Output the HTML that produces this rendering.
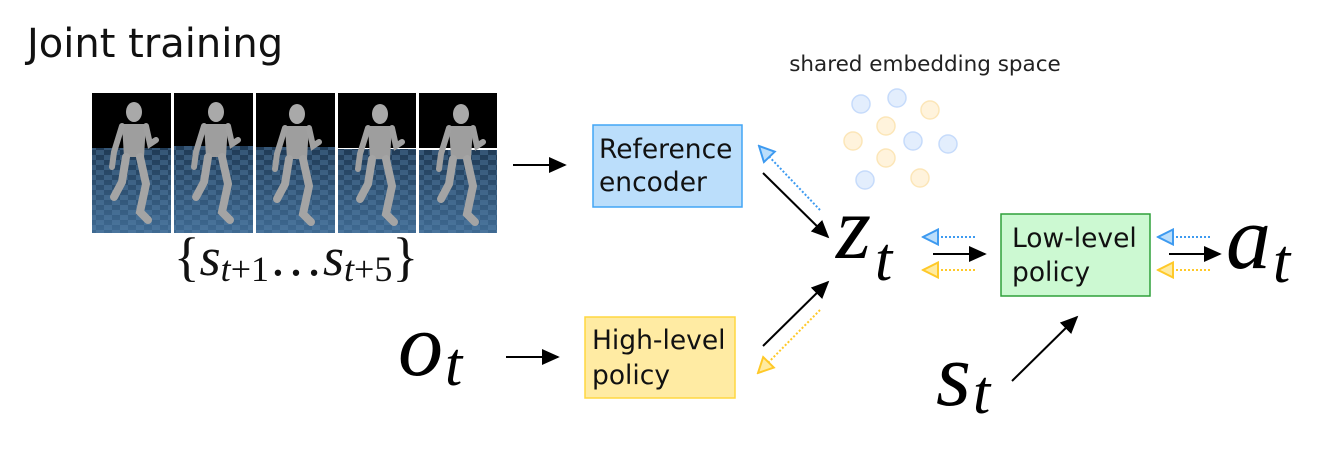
<!DOCTYPE html>
<html><head><meta charset="utf-8"><style>
html,body{margin:0;padding:0;background:#fff;}
svg{display:block;}
.sans{font-family:"DejaVu Sans","Liberation Sans",sans-serif;}
.math{font-family:"Liberation Serif","DejaVu Serif",serif;font-style:italic;}
</style></head><body>
<svg width="1342" height="449" viewBox="0 0 1342 449" xmlns="http://www.w3.org/2000/svg">
<defs>
<marker id="ah" viewBox="0 0 10 10" refX="9" refY="5" markerWidth="18" markerHeight="18" markerUnits="userSpaceOnUse" orient="auto"><path d="M0,0.5 L10,5 L0,9.5 z" fill="#000"/></marker>
<marker id="ahB" viewBox="0 0 12 12" refX="11" refY="6" markerWidth="18" markerHeight="18" markerUnits="userSpaceOnUse" orient="auto"><path d="M1,1 L11,6 L1,11 z" fill="#bbdefb" stroke="#3d9af0" stroke-width="1.3"/></marker>
<marker id="ahY" viewBox="0 0 12 12" refX="11" refY="6" markerWidth="18" markerHeight="18" markerUnits="userSpaceOnUse" orient="auto"><path d="M1,1 L11,6 L1,11 z" fill="#ffeba0" stroke="#ffc928" stroke-width="1.3"/></marker>
<linearGradient id="fl" x1="0" y1="0" x2="0" y2="1"><stop offset="0" stop-color="#1f3a55"/><stop offset="1" stop-color="#3f6a92"/></linearGradient>
<pattern id="chk" width="16" height="10" patternUnits="userSpaceOnUse"><rect width="8" height="5" fill="#5f8ab0" opacity=".35"/><rect x="8" y="5" width="8" height="5" fill="#5f8ab0" opacity=".35"/></pattern>
<g id="fig">
<ellipse cx="0" cy="-50" rx="8" ry="10" fill="#a9a9a9"/>
<path d="M-12,-38 L12,-38 L10,-5 L-10,-5 z" fill="#9e9e9e"/>
<path d="M-12,-36 L-20,-10 L-22,5" stroke="#a0a0a0" stroke-width="6" fill="none" stroke-linecap="round"/>
<path d="M12,-36 L16,-18 L22,-22" stroke="#a0a0a0" stroke-width="6" fill="none" stroke-linecap="round"/>
<path d="M-8,-5 L-12,20 L-20,35" stroke="#a4a4a4" stroke-width="8" fill="none" stroke-linecap="round"/>
<path d="M6,-5 L12,22 L6,50 L14,58" stroke="#a4a4a4" stroke-width="8" fill="none" stroke-linecap="round"/>
</g>
</defs>

<text x="27" y="57" class="sans" font-size="40" fill="#111">Joint training</text>

<g>
<rect x="92" y="93" width="79" height="55" fill="#000"/><rect x="92" y="148" width="79" height="85" fill="url(#fl)"/><rect x="92" y="148" width="79" height="85" fill="url(#chk)"/>
<rect x="174" y="93" width="79" height="55" fill="#000"/><rect x="174" y="146" width="79" height="87" fill="url(#fl)"/><rect x="174" y="146" width="79" height="87" fill="url(#chk)"/>
<rect x="256" y="93" width="79" height="55" fill="#000"/><rect x="256" y="147" width="79" height="86" fill="url(#fl)"/><rect x="256" y="147" width="79" height="86" fill="url(#chk)"/>
<rect x="338" y="93" width="78" height="55" fill="#000"/><rect x="338" y="149" width="78" height="84" fill="url(#fl)"/><rect x="338" y="149" width="78" height="84" fill="url(#chk)"/>
<rect x="419" y="93" width="78" height="55" fill="#000"/><rect x="419" y="150" width="78" height="83" fill="url(#fl)"/><rect x="419" y="150" width="78" height="83" fill="url(#chk)"/>
<use href="#fig" x="134" y="162"/>
<use href="#fig" x="216" y="162"/>
<use href="#fig" x="297" y="164"/>
<use href="#fig" x="380" y="164"/>
<use href="#fig" x="461" y="164"/>
</g>

<text x="296" y="275" text-anchor="middle" class="math" font-size="54" fill="#111"><tspan font-style="normal">{</tspan>s<tspan font-size="36" dy="6">t</tspan><tspan font-size="36" font-style="normal">+1</tspan><tspan dy="-6" font-style="normal">…</tspan>s<tspan font-size="36" dy="6">t</tspan><tspan font-size="36" font-style="normal">+5</tspan><tspan dy="-6" font-style="normal">}</tspan></text>

<text x="925" y="71" text-anchor="middle" class="sans" font-size="21.5" fill="#222">shared embedding space</text>
<g stroke-width="1.5">
<circle cx="861" cy="104" r="9" fill="#e3eefd" stroke="#c6dbfb"/>
<circle cx="897" cy="98" r="9" fill="#e3eefd" stroke="#c6dbfb"/>
<circle cx="913" cy="141" r="9" fill="#e3eefd" stroke="#c6dbfb"/>
<circle cx="948" cy="144" r="9" fill="#e3eefd" stroke="#c6dbfb"/>
<circle cx="865" cy="180" r="9" fill="#e3eefd" stroke="#c6dbfb"/>
<circle cx="930" cy="110" r="9" fill="#fff3dc" stroke="#fce6b8"/>
<circle cx="886" cy="126" r="9" fill="#fff3dc" stroke="#fce6b8"/>
<circle cx="853" cy="141" r="9" fill="#fff3dc" stroke="#fce6b8"/>
<circle cx="886" cy="158" r="9" fill="#fff3dc" stroke="#fce6b8"/>
<circle cx="920" cy="178" r="9" fill="#fff3dc" stroke="#fce6b8"/>
</g>

<rect x="593" y="125" width="149" height="82" fill="#bbdefb" stroke="#42a5f5" stroke-width="1.5"/>
<text x="599" y="158" class="sans" font-size="26.5" fill="#111">Reference</text>
<text x="599" y="191" class="sans" font-size="26.5" fill="#111">encoder</text>

<rect x="585" y="317" width="150" height="81" fill="#ffeba3" stroke="#ffd740" stroke-width="1.5"/>
<text x="592" y="349" class="sans" font-size="26.5" fill="#111">High-level</text>
<text x="592" y="384" class="sans" font-size="26.5" fill="#111">policy</text>

<rect x="1001" y="214" width="149" height="82" fill="#ccf9d2" stroke="#2ea03a" stroke-width="1.5"/>
<text x="1012" y="247" class="sans" font-size="26.5" fill="#111">Low-level</text>
<text x="1012" y="281" class="sans" font-size="26.5" fill="#111">policy</text>

<text x="836" y="258" class="math" font-size="90" fill="#000">z<tspan font-size="62" dx="4" dy="22">t</tspan></text>
<text x="1226" y="268" class="math" font-size="90" fill="#000">a<tspan font-size="62" dx="2" dy="14">t</tspan></text>
<text x="398" y="375" class="math" font-size="90" fill="#000">o<tspan font-size="62" dx="2" dy="10">t</tspan></text>
<text x="936" y="405" class="math" font-size="90" fill="#000">s<tspan font-size="62" dx="2" dy="8">t</tspan></text>

<g stroke="#000" stroke-width="2" fill="none" marker-end="url(#ah)">
<line x1="513" y1="165" x2="565" y2="165"/>
<line x1="506" y1="357" x2="558" y2="357"/>
<line x1="763" y1="173" x2="828" y2="237"/>
<line x1="763" y1="346" x2="828" y2="282"/>
<line x1="933" y1="254" x2="985" y2="254"/>
<line x1="1169" y1="254" x2="1220" y2="254"/>
<line x1="1012" y1="381" x2="1077" y2="317"/>
</g>
<g stroke-width="2" fill="none" stroke-dasharray="2,2">
<line x1="820" y1="210" x2="759" y2="146" stroke="#3d9af0" marker-end="url(#ahB)"/>
<line x1="820" y1="310" x2="758" y2="373" stroke="#ffc928" marker-end="url(#ahY)"/>
<line x1="975" y1="237" x2="923" y2="237" stroke="#3d9af0" marker-end="url(#ahB)"/>
<line x1="975" y1="270" x2="923" y2="270" stroke="#ffc928" marker-end="url(#ahY)"/>
<line x1="1210" y1="237" x2="1158" y2="237" stroke="#3d9af0" marker-end="url(#ahB)"/>
<line x1="1210" y1="270" x2="1158" y2="270" stroke="#ffc928" marker-end="url(#ahY)"/>
</g>
</svg>
</body></html>
